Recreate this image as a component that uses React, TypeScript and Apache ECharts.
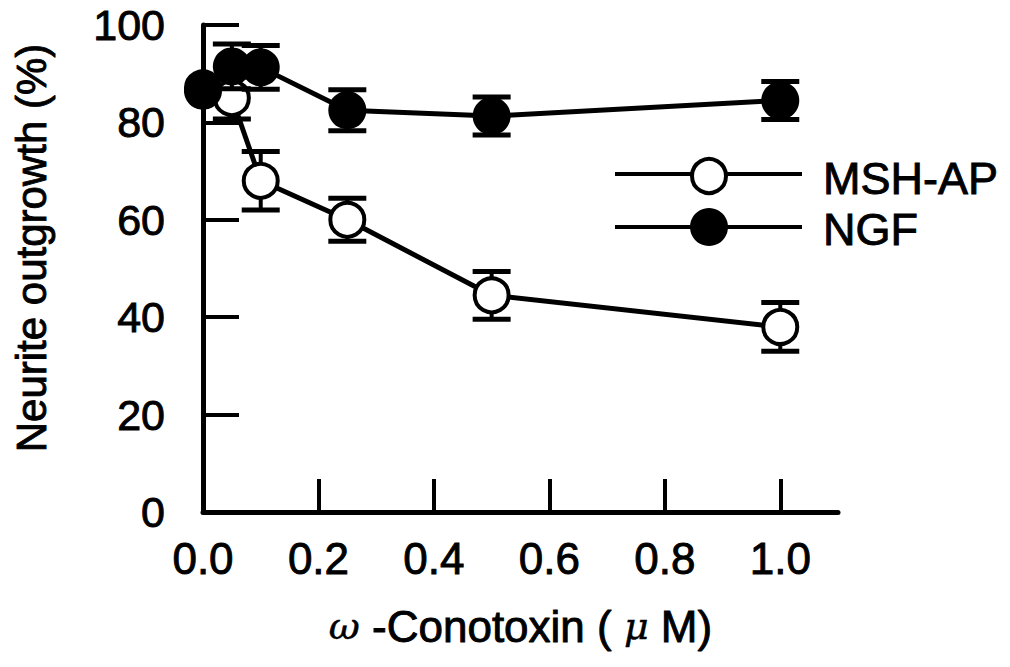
import React, { useEffect, useRef } from "react";
import * as echarts from "echarts";

const xValues = [0, 0.05, 0.1, 0.25, 0.5, 1.0];
const mshMean = [87, 85, 68, 60, 44.5, 38];
const mshErr = [0, 4.3, 6, 4.4, 4.9, 5];
const ngfMean = [86.5, 91.5, 91.3, 82.5, 81.3, 84.5];
const ngfErr = [0, 4.6, 4.5, 4.2, 3.9, 3.9];
const xTickValues = [0.2, 0.4, 0.6, 0.8, 1.0];
const xLabelValues = [0, 0.2, 0.4, 0.6, 0.8, 1.0];
const seriesNames = ["MSH-AP", "NGF"];

const SANS = "'Liberation Sans', Arial, Helvetica, sans-serif";
const BOLDEN = { textBorderColor: "#000", textBorderWidth: 0.9 };

export default function App() {
  const ref = useRef<HTMLDivElement>(null);
  useEffect(() => {
    if (!ref.current) return;
    const chart = echarts.init(ref.current, undefined, { renderer: "svg" });
    const errData = (means: number[], errs: number[]) =>
      xValues.map((x, i) => [x, means[i] - errs[i], means[i] + errs[i]]);
    const errorSeries = (name: string, means: number[], errs: number[], z: number) => ({
      type: "custom",
      name: name + " err",
      z,
      clip: false,
      data: errData(means, errs),
      renderItem: (params: any, api: any) => {
        const x = api.value(0);
        if (api.value(1) === api.value(2)) return null;
        const lo = api.coord([x, api.value(1)]);
        const hi = api.coord([x, api.value(2)]);
        const hw = 19;
        const st = { stroke: "#000", lineWidth: 4 };
        return {
          type: "group",
          children: [
            { type: "line", shape: { x1: hi[0], y1: hi[1], x2: lo[0], y2: lo[1] }, style: st },
            { type: "line", shape: { x1: hi[0] - hw, y1: hi[1], x2: hi[0] + hw, y2: hi[1] }, style: { stroke: "#000", lineWidth: 5 } },
            { type: "line", shape: { x1: lo[0] - hw, y1: lo[1], x2: lo[0] + hw, y2: lo[1] }, style: { stroke: "#000", lineWidth: 5 } },
          ],
        };
      },
    });
    const option: any = {
      animation: false,
      backgroundColor: "#fff",
      grid: { left: 203, top: 25, right: 172, bottom: 155, containLabel: false },
      xAxis: {
        type: "value",
        min: 0,
        max: 1.1,
        interval: 0.2,
        splitLine: { show: false },
        axisLine: { show: true, lineStyle: { color: "#000", width: 5 } },
        axisTick: { show: true, inside: true, length: 33, lineStyle: { color: "#000", width: 4 }, customValues: xTickValues },
        axisLabel: {
          color: "#000",
          fontSize: 44,
          fontFamily: SANS,
          margin: 24,
          customValues: xLabelValues,
          formatter: (v: number) => v.toFixed(1),
          ...BOLDEN,
        },
        name: "{g|ω} -Conotoxin ( {g|μ} M)",
        nameLocation: "middle",
        nameGap: 92,
        nameTextStyle: {
          color: "#000",
          fontSize: 44,
          fontFamily: SANS,
          ...BOLDEN,
          rich: {
            g: { fontFamily: "'DejaVu Serif', 'Liberation Serif', serif", fontStyle: "italic", fontSize: 38, color: "#000", textBorderColor: "#000", textBorderWidth: 0.5 },
          },
        },
      },
      yAxis: {
        type: "value",
        min: 0,
        max: 100,
        interval: 20,
        splitLine: { show: false },
        axisLine: { show: true, lineStyle: { color: "#000", width: 5 } },
        axisTick: { show: true, inside: true, length: 36, lineStyle: { color: "#000", width: 4 } },
        axisLabel: { color: "#000", fontSize: 43, fontFamily: SANS, margin: 38, ...BOLDEN },
      },
      graphic: [
        {
          type: "text",
          x: 31,
          y: 248,
          rotation: Math.PI / 2,
          style: { text: "Neurite outgrowth (%)", font: "42px " + SANS, fill: "#000", stroke: "#000", lineWidth: 0.9, align: "center", verticalAlign: "middle" },
        },
        { type: "line", shape: { x1: 615, y1: 174, x2: 802, y2: 174 }, style: { stroke: "#000", lineWidth: 4 } },
        { type: "circle", shape: { cx: 709, cy: 176, r: 17 }, style: { fill: "#fff", stroke: "#000", lineWidth: 4 } },
        { type: "text", x: 823, y: 178, style: { text: seriesNames[0], font: "45px " + SANS, fill: "#000", stroke: "#000", lineWidth: 0.9, align: "left", verticalAlign: "middle" } },
        { type: "line", shape: { x1: 615, y1: 227, x2: 802, y2: 227 }, style: { stroke: "#000", lineWidth: 4 } },
        { type: "circle", shape: { cx: 709, cy: 227, r: 19 }, style: { fill: "#000" } },
        { type: "text", x: 823, y: 229, style: { text: seriesNames[1], font: "45px " + SANS, fill: "#000", stroke: "#000", lineWidth: 0.9, align: "left", verticalAlign: "middle" } },
      ],
      series: [
        errorSeries(seriesNames[0], mshMean, mshErr, 1),
        {
          type: "line",
          name: seriesNames[0],
          z: 2,
          clip: false,
          data: xValues.map((x, i) => [x, mshMean[i]]),
          symbol: "circle",
          symbolSize: 34,
          lineStyle: { color: "#000", width: 5 },
          itemStyle: { color: "#fff", borderColor: "#000", borderWidth: 4 },
        },
        errorSeries(seriesNames[1], ngfMean, ngfErr, 3),
        {
          type: "line",
          name: seriesNames[1],
          z: 4,
          clip: false,
          data: xValues.map((x, i) => [x, ngfMean[i]]),
          symbol: "circle",
          symbolSize: 38,
          lineStyle: { color: "#000", width: 5 },
          itemStyle: { color: "#000", borderWidth: 0 },
        },
      ],
    };
    chart.setOption(option);
    return () => chart.dispose();
  }, []);
  return <div ref={ref} style={{ position: "absolute", left: 0, top: 0, width: 1010, height: 667, background: "#fff" }} />;
}
